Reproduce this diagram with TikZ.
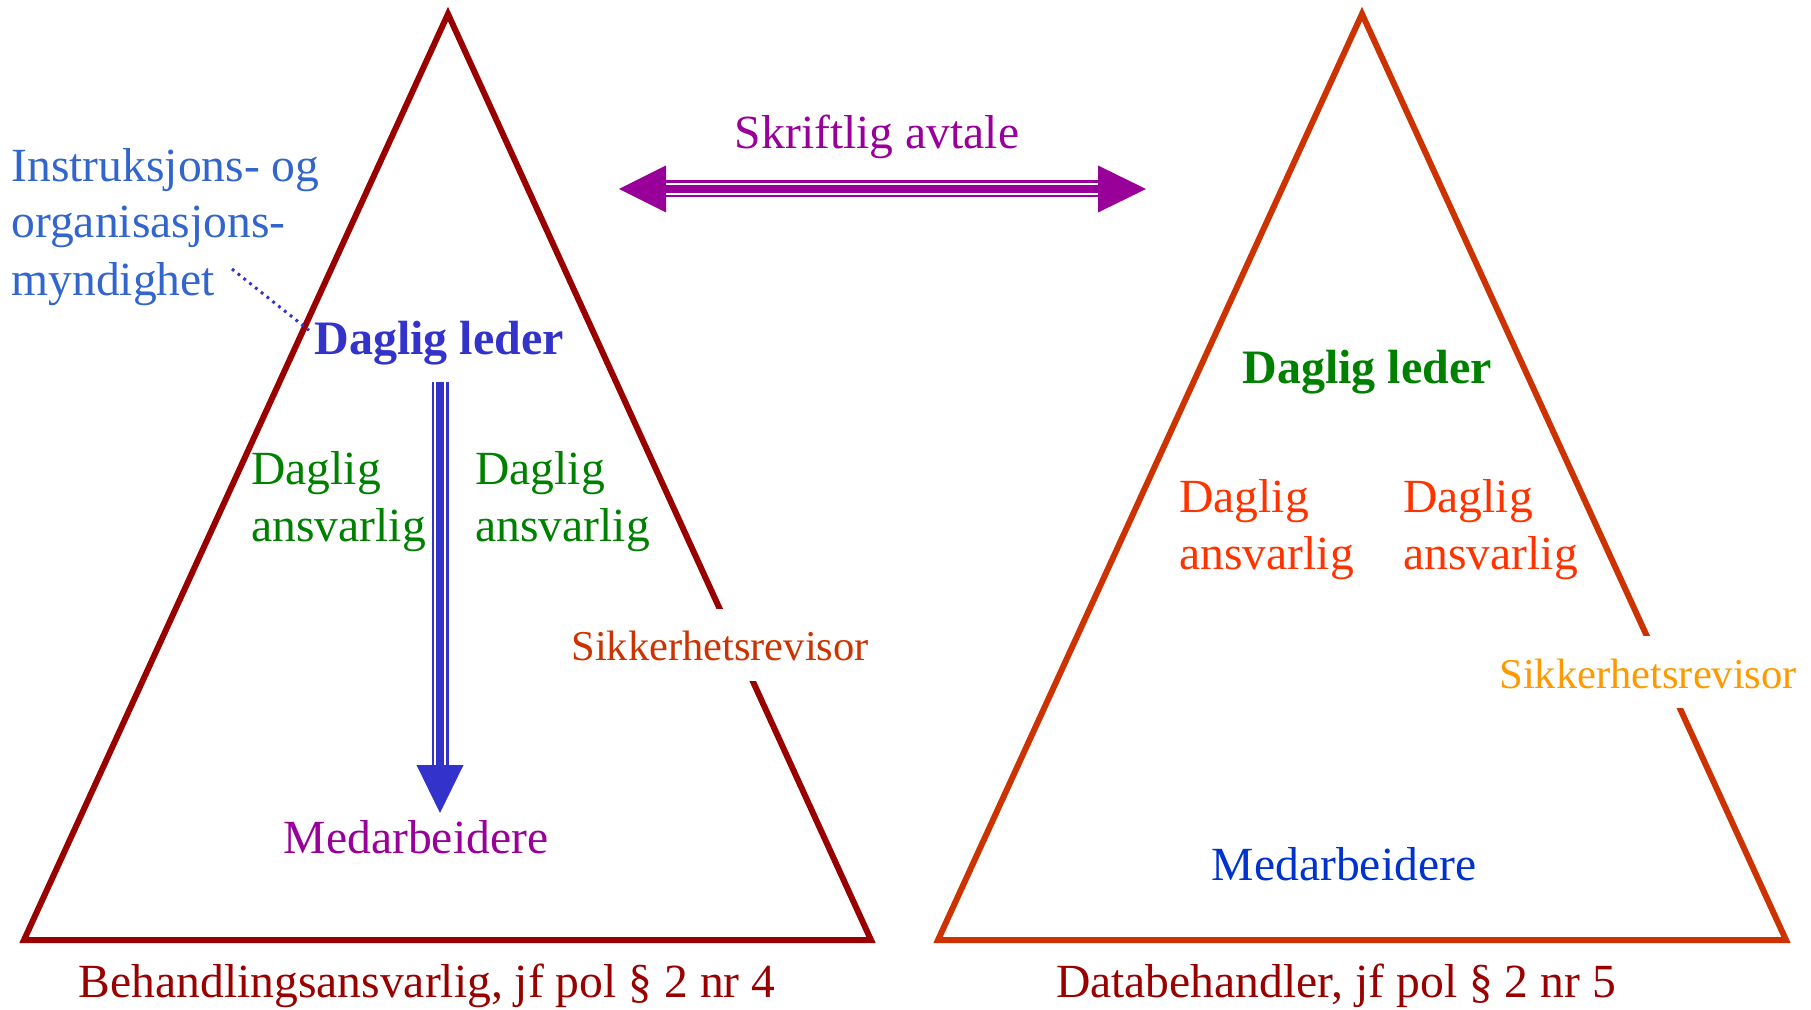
\documentclass[tikz,border=0pt]{standalone}
\usepackage{fontspec}
\setmainfont{Liberation Serif}

\definecolor{ctrlred}{HTML}{990000}
\definecolor{procred}{HTML}{CC3300}
\definecolor{agreepurple}{HTML}{990099}
\definecolor{authblue}{HTML}{3366CC}
\definecolor{leadblue}{HTML}{3333CC}
\definecolor{dutygreen}{HTML}{008000}
\definecolor{dutyorange}{HTML}{FF3300}
\definecolor{auditorange}{HTML}{FF9900}
\definecolor{staffblue}{HTML}{0033CC}

\begin{document}
\begin{tikzpicture}[x=0.5pt,y=-0.5pt,
  lbl/.style={inner sep=0pt, font=\fontsize{23.8pt}{28.5pt}\selectfont},
  boldlbl/.style={inner sep=0pt, font=\fontsize{24pt}{28.8pt}\selectfont\bfseries},
  auditlbl/.style={inner sep=0pt, fill=white, text height=26pt, text depth=10pt,
                   font=\fontsize{21.25pt}{25pt}\selectfont},
  tri/.style={line width=3pt, line join=miter},
  leader/.style={leadblue, line width=1.5pt, dash pattern=on 1.4pt off 2.3pt},
]
\useasboundingbox (0,0) rectangle (1811,1010);

% the two organisation pyramids
\draw[tri, draw=ctrlred]  (448,14)  -- (24,940)  -- (871,940)  -- cycle;
\draw[tri, draw=procred]  (1362,14) -- (938,940) -- (1786,940) -- cycle;

% written agreement between the two organisations
\node[lbl, text=agreepurple, anchor=base] (agree) at (877,149) {Skriftlig avtale};
\coordinate (agreeL) at (619,189);
\coordinate (agreeR) at (1146,189);
\coordinate (agreeLb) at (666,189);
\coordinate (agreeRb) at (1098,189);
\draw[agreepurple, line width=8.5pt] (agreeLb) -- (agreeRb);
\draw[white, line width=6.2pt] (agreeLb) -- (agreeRb);
\draw[agreepurple, line width=3.7pt] (agreeLb) -- (agreeRb);
\fill[agreepurple] (agreeL) -- ([yshift=-11.75pt]agreeLb) -- ([yshift=11.75pt]agreeLb) -- cycle;
\fill[agreepurple] (agreeR) -- ([yshift=-11.75pt]agreeRb) -- ([yshift=11.75pt]agreeRb) -- cycle;

% authority note
\node[lbl, text=authblue, anchor=base west] (auth1) at (11,182) {Instruksjons- og};
\node[lbl, text=authblue, anchor=base west] (auth2) at (11,238) {organisasjons-};
\node[lbl, text=authblue, anchor=base west] (auth3) at (11,296) {myndighet};

% left pyramid: controller
\node[boldlbl, text=leadblue, anchor=base west] (ctrlLead) at (314,355) {Daglig leder};
\coordinate (authEnd) at (232,269);
\draw[leader] (authEnd) -- ([xshift=-2.5pt,yshift=-4.5pt]ctrlLead.north west);

\node[lbl, text=dutygreen, anchor=base west] (ctrlDutyA1) at (251,485) {Daglig};
\node[lbl, text=dutygreen, anchor=base west] (ctrlDutyA2) at (251,542) {ansvarlig};
\node[lbl, text=dutygreen, anchor=base west] (ctrlDutyB1) at (475,485) {Daglig};
\node[lbl, text=dutygreen, anchor=base west] (ctrlDutyB2) at (475,542) {ansvarlig};

\node[auditlbl, text=procred, anchor=base west] (ctrlAudit) at (571,661) {Sikkerhetsrevisor};

\node[lbl, text=agreepurple, anchor=base] (ctrlStaff) at (416,853) {Medarbeidere};

% chain of command arrow
\coordinate (cmdTop) at (440,382);
\coordinate (cmdBase) at (440,765);
\coordinate (cmdTip) at (440,813);
\draw[leadblue, line width=8.5pt] (cmdTop) -- (cmdBase);
\draw[white, line width=6.2pt] (cmdTop) -- (cmdBase);
\draw[leadblue, line width=3.7pt] (cmdTop) -- (cmdBase);
\fill[leadblue] (cmdTip) -- ([xshift=-11.75pt]cmdBase) -- ([xshift=11.75pt]cmdBase) -- cycle;

% right pyramid: processor
\node[boldlbl, text=dutygreen, anchor=base] (procLead) at (1367,384) {Daglig leder};
\node[lbl, text=dutyorange, anchor=base west] (procDutyA1) at (1179,513) {Daglig};
\node[lbl, text=dutyorange, anchor=base west] (procDutyA2) at (1179,570) {ansvarlig};
\node[lbl, text=dutyorange, anchor=base west] (procDutyB1) at (1403,513) {Daglig};
\node[lbl, text=dutyorange, anchor=base west] (procDutyB2) at (1403,570) {ansvarlig};

\node[auditlbl, text=auditorange, anchor=base west] (procAudit) at (1499,688) {Sikkerhetsrevisor};

\node[lbl, text=staffblue, anchor=base] (procStaff) at (1344,880) {Medarbeidere};

% captions
\node[lbl, text=ctrlred, anchor=base] (ctrlCap) at (427,997) {Behandlingsansvarlig, jf pol § 2 nr 4};
\node[lbl, text=ctrlred, anchor=base] (procCap) at (1336,997) {Databehandler, jf pol § 2 nr 5};
\end{tikzpicture}
\end{document}
